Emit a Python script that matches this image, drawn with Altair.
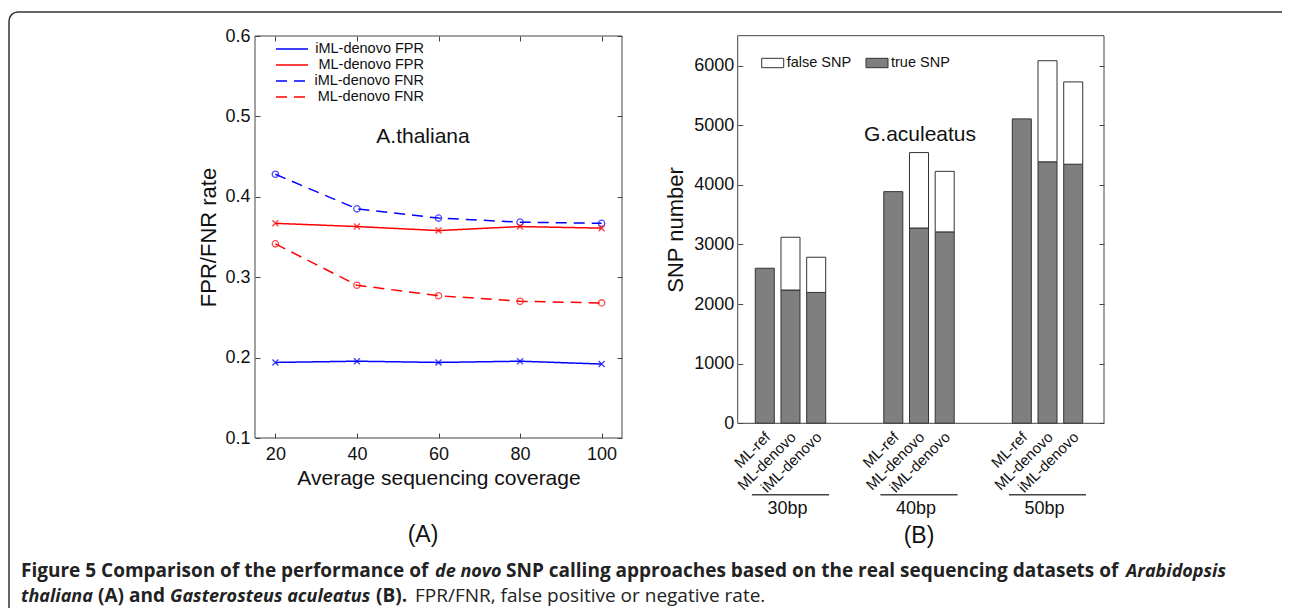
import altair as alt
import pandas as pd

# ---------------- data ----------------
coverage = [20, 40, 60, 80, 100]
series_names = ["iML-denovo FPR", "ML-denovo FPR", "iML-denovo FNR", "ML-denovo FNR"]
iml_fpr = [0.194, 0.1955, 0.194, 0.1955, 0.192]
ml_fpr = [0.367, 0.363, 0.358, 0.363, 0.361]
iml_fnr = [0.428, 0.385, 0.3735, 0.3685, 0.367]
ml_fnr = [0.3415, 0.290, 0.277, 0.270, 0.268]
series_markers = ["x", "x", "o", "o"]
a_yticks = [0.1, 0.2, 0.3, 0.4, 0.5, 0.6]

groups = ["30bp", "40bp", "50bp"]
methods = ["ML-ref", "ML-denovo", "iML-denovo"]
true_30 = [2600, 2235, 2195]
total_30 = [2600, 3120, 2785]
true_40 = [3885, 3275, 3210]
total_40 = [3885, 4540, 4225]
true_50 = [5105, 4385, 4345]
total_50 = [5105, 6080, 5725]
b_yticks = [0, 1000, 2000, 3000, 4000, 5000, 6000]
snp_kinds = ["false SNP", "true SNP"]

caption_line1 = [
    ("Figure 5 Comparison of the performance of", "bold", "normal"),
    ("de novo", "bold", "italic"),
    ("SNP calling approaches based on the real sequencing datasets of", "bold", "normal"),
    ("Arabidopsis", "bold", "italic"),
]
caption_line2 = [
    ("thaliana", "bold", "italic"),
    ("(A) and", "bold", "normal"),
    ("Gasterosteus aculeatus", "bold", "italic"),
    ("(B).", "bold", "normal"),
    ("FPR/FNR, false positive or negative rate.", "normal", "normal"),
]

# ---------------- layout / style ----------------
W, H = 1274, 600
FONT = "Liberation Sans"
CAP_FONT = "Open Sans"
TXT = "#111111"
AXC = "#444444"
series_colors = ["#0000ff", "#ff0000", "#0000ff", "#ff0000"]
series_dash = [[1, 0], [1, 0], [11, 7], [11, 7]]

A_L, A_R, A_T, A_B = 247, 614, 28, 430
B_L, B_R, B_T, B_B = 729.7, 1096, 27.7, 415.3
TICK = 5

cap1_x = [13, 427, 498, 1118]
cap2_x = [13, 90, 162, 368, 407]
cap_y = [569, 594]
CAP_SIZE = 19
CAP_ITALIC_SIZE = 18

# ---------------- frames ----------------
line_rows = []
for name, vals, mk in zip(series_names, [iml_fpr, ml_fpr, iml_fnr, ml_fnr], series_markers):
    for c, v in zip(coverage, vals):
        line_rows.append(dict(series=name, coverage=c, value=v, marker=mk))
df_lines = pd.DataFrame(line_rows)

bar_rows = []
for g, trs, tots in zip(groups, [true_30, true_40, true_50], [total_30, total_40, total_50]):
    for m, t, tot in zip(methods, trs, tots):
        bar_rows.append(dict(group=g, method=m, kind="true SNP", y0=0, y1=t))
        if tot > t:
            bar_rows.append(dict(group=g, method=m, kind="false SNP", y0=t, y1=tot))
df_bars = pd.DataFrame(bar_rows)
df_labels = pd.DataFrame([dict(group=g, method=m) for g in groups for m in methods])
df_groups = pd.DataFrame(dict(group=groups))
df_series = pd.DataFrame(dict(series=series_names))
df_kinds = pd.DataFrame(dict(kind=snp_kinds))
df_atick = pd.DataFrame(dict(x=coverage + [20] * (len(a_yticks) - len(coverage)),
                             y=a_yticks))
df_btick = pd.DataFrame(dict(y=b_yticks))

# ---------------- panel A ----------------
xA = alt.Scale(domain=[15, 105], range=[A_L, A_R], nice=False, zero=False)
yA = alt.Scale(domain=[0.1, 0.6], range=[A_B, A_T], nice=False, zero=False)
cscale = alt.Scale(domain=series_names, range=series_colors)
dscale = alt.Scale(domain=series_names, range=series_dash)

common_axis = dict(domain=False, grid=False, ticks=True, tickColor=AXC, tickWidth=1,
                   tickSize=TICK, labelFont=FONT, labelFontSize=18, labelColor=TXT,
                   labelFlush=False, titleFont=FONT, titleFontWeight="normal",
                   titleColor=TXT, titleAlign="center", titleBaseline="middle", zindex=2)

axA_x = alt.Axis(values=coverage, orient="bottom", offset=A_B - H - TICK,
                 labelPadding=7, title="Average sequencing coverage", titleFontSize=21,
                 titleX=(A_L + A_R) / 2, titleY=45, titleAngle=0, **common_axis)
axA_y = alt.Axis(values=a_yticks, format=".1f", orient="left", offset=-A_L - TICK,
                 labelPadding=5, title="FPR/FNR rate", titleFontSize=22,
                 titleX=200 - A_L - TICK, titleY=(A_T + A_B) / 2, titleAngle=270,
                 **common_axis)

baseA = alt.Chart(df_lines)
linesA = baseA.mark_line(strokeWidth=1.5).encode(
    x=alt.X("coverage:Q", scale=xA, axis=axA_x),
    y=alt.Y("value:Q", scale=yA, axis=axA_y),
    color=alt.Color("series:N", scale=cscale, legend=None),
    strokeDash=alt.StrokeDash("series:N", scale=dscale, legend=None),
    detail="series:N",
)
circA = baseA.transform_filter(alt.datum.marker == "o").mark_point(
    shape="circle", filled=False, size=40, strokeWidth=1.3).encode(
    x=alt.X("coverage:Q", scale=xA),
    y=alt.Y("value:Q", scale=yA),
    color=alt.Color("series:N", scale=cscale, legend=None),
)
crossA = baseA.transform_filter(alt.datum.marker == "x").mark_point(
    shape="M-1,-1L1,1M-1,1L1,-1", filled=False, size=36, strokeWidth=1.5).encode(
    x=alt.X("coverage:Q", scale=xA),
    y=alt.Y("value:Q", scale=yA),
    color=alt.Color("series:N", scale=cscale, legend=None),
)
panelA = alt.layer(linesA, circA, crossA)

# mirrored inside ticks on the top and right edges of panel A
mirror_axis = dict(domain=False, grid=False, labels=False, ticks=True, tickColor=AXC,
                   tickWidth=1, tickSize=TICK, title=None, zindex=2)
ticksA = alt.Chart(df_atick).mark_point(opacity=0).encode(
    x=alt.X("x:Q", scale=xA, axis=alt.Axis(values=coverage, orient="top",
                                           offset=-A_T - TICK, **mirror_axis)),
    y=alt.Y("y:Q", scale=yA, axis=alt.Axis(values=a_yticks, orient="right",
                                           offset=A_R - TICK - W, **mirror_axis)),
)

# legend A
legY = alt.Scale(type="point", domain=series_names, range=[41, 89], padding=0)
legA_lines = alt.Chart(df_series).mark_rule(strokeWidth=1.5).encode(
    y=alt.Y("series:N", scale=legY, axis=None),
    x=alt.value(268), x2=alt.value(300),
    color=alt.Color("series:N", scale=cscale, legend=None),
    strokeDash=alt.StrokeDash("series:N", scale=dscale, legend=None),
)
legA_text = alt.Chart(df_series).mark_text(align="right", baseline="middle", font=FONT,
                                           fontSize=14.5, color=TXT).encode(
    y=alt.Y("series:N", scale=legY, axis=None),
    x=alt.value(416), text="series:N",
)
legendA = alt.layer(legA_lines, legA_text)

# ---------------- panel B ----------------
xB = alt.Scale(domain=groups, range=[728, 1094], paddingInner=0.4, paddingOuter=0.124)
xoB = alt.Scale(domain=methods, paddingInner=0.26, paddingOuter=0.13)
yB = alt.Scale(domain=[0, 6500], range=[B_B, B_T], nice=False, zero=False)
fscale = alt.Scale(domain=snp_kinds, range=["#ffffff", "#7f7f7f"])

axB_y = alt.Axis(values=b_yticks, format="d", orient="left", offset=-B_L - TICK,
                 labelPadding=4, title="SNP number", titleFontSize=22,
                 titleX=667 - B_L - TICK, titleY=(B_T + B_B) / 2, titleAngle=270,
                 **common_axis)

barsB = alt.Chart(df_bars).mark_bar(stroke="#333333", strokeWidth=1).encode(
    x=alt.X("group:N", scale=xB, axis=None),
    xOffset=alt.XOffset("method:N", scale=xoB),
    y=alt.Y("y0:Q", scale=yB, axis=axB_y),
    y2="y1:Q",
    fill=alt.Fill("kind:N", scale=fscale, legend=None),
)
methB = alt.Chart(df_labels).mark_text(angle=315, align="right", baseline="alphabetic",
                                       font=FONT, fontSize=15, color=TXT, dx=4.5, dy=4.5).encode(
    x=alt.X("group:N", scale=xB, axis=None),
    xOffset=alt.XOffset("method:N", scale=xoB),
    y=alt.value(430),
    text="method:N",
)
ruleB = alt.Chart(df_groups).mark_bar(color="#444444").encode(
    x=alt.X("group:N", scale=xB, axis=None),
    y=alt.value(486), y2=alt.value(487.5),
)
grpB = alt.Chart(df_groups).mark_text(baseline="middle", font=FONT, fontSize=18,
                                      color=TXT, dx=-3).encode(
    x=alt.X("group:N", scale=xB, axis=None),
    y=alt.value(501),
    text="group:N",
)
panelB = alt.layer(barsB, methB, ruleB, grpB)

ticksB = alt.Chart(df_btick).mark_point(opacity=0).encode(
    x=alt.value(B_L + 10),
    y=alt.Y("y:Q", scale=yB, axis=alt.Axis(values=b_yticks, orient="right",
                                           offset=B_R - TICK - W, **mirror_axis)),
)

# legend B
legX = alt.Scale(domain=snp_kinds, range=[753.7, 880], paddingInner=0.789, paddingOuter=0)
legB_sw = alt.Chart(df_kinds).mark_bar(stroke="#333333", strokeWidth=1).encode(
    x=alt.X("kind:N", scale=legX, axis=None),
    y=alt.value(50.3), y2=alt.value(59.7),
    fill=alt.Fill("kind:N", scale=fscale, legend=None),
)
legB_tx = alt.Chart(df_kinds).mark_text(align="left", baseline="middle", font=FONT,
                                        fontSize=14.5, color=TXT, dx=14).encode(
    x=alt.X("kind:N", scale=legX, axis=None),
    y=alt.value(55), text="kind:N",
)
legendB = alt.layer(legB_sw, legB_tx)

# ---------------- frame, boxes and annotations ----------------
one = pd.DataFrame(dict(t=[""]))
border = alt.Chart(one).mark_rect(fill="transparent", stroke="#333333", strokeWidth=1.5,
                                  cornerRadius=9).encode(
    x=alt.value(1), x2=alt.value(1320), y=alt.value(4), y2=alt.value(660))
boxA = alt.Chart(one).mark_rect(fill="transparent", stroke=AXC, strokeWidth=1).encode(
    x=alt.value(A_L), x2=alt.value(A_R), y=alt.value(A_T), y2=alt.value(A_B))
boxB = alt.Chart(one).mark_rect(fill="transparent", stroke=AXC, strokeWidth=1).encode(
    x=alt.value(B_L), x2=alt.value(B_R), y=alt.value(B_T), y2=alt.value(B_B))


def note(text, x, y, size, **kw):
    return alt.Chart(pd.DataFrame(dict(t=[text]))).mark_text(
        font=FONT, fontSize=size, color=TXT, baseline="middle", **kw).encode(
        x=alt.value(x), y=alt.value(y), text="t:N")


notes = [
    note("A.thaliana", 415, 129, 21),
    note("G.aculeatus", 912, 127, 21),
    note("(A)", 415, 527, 23),
    note("(B)", 911, 528, 23),
]

caps = []
for line, xs, y in [(caption_line1, cap1_x, cap_y[0]), (caption_line2, cap2_x, cap_y[1])]:
    for (txt, wt, st), x in zip(line, xs):
        size = CAP_ITALIC_SIZE if st == "italic" else CAP_SIZE
        caps.append(alt.Chart(pd.DataFrame(dict(t=[txt]))).mark_text(
            font=CAP_FONT, fontSize=size, fontWeight=wt, fontStyle=st, color="#222222",
            align="left", baseline="alphabetic").encode(
            x=alt.value(x), y=alt.value(y), text="t:N"))

chart = alt.layer(
    border, panelA, ticksA, legendA, panelB, ticksB, legendB, boxA, boxB, *notes, *caps
).resolve_scale(
    x="independent", y="independent", color="independent",
    strokeDash="independent", fill="independent",
).properties(
    width=W, height=H, padding=0, autosize=alt.AutoSizeParams(type="none"),
    background="white",
).configure_view(stroke=None)

chart.save("out.html", embed_options={"renderer": "svg", "actions": False})
